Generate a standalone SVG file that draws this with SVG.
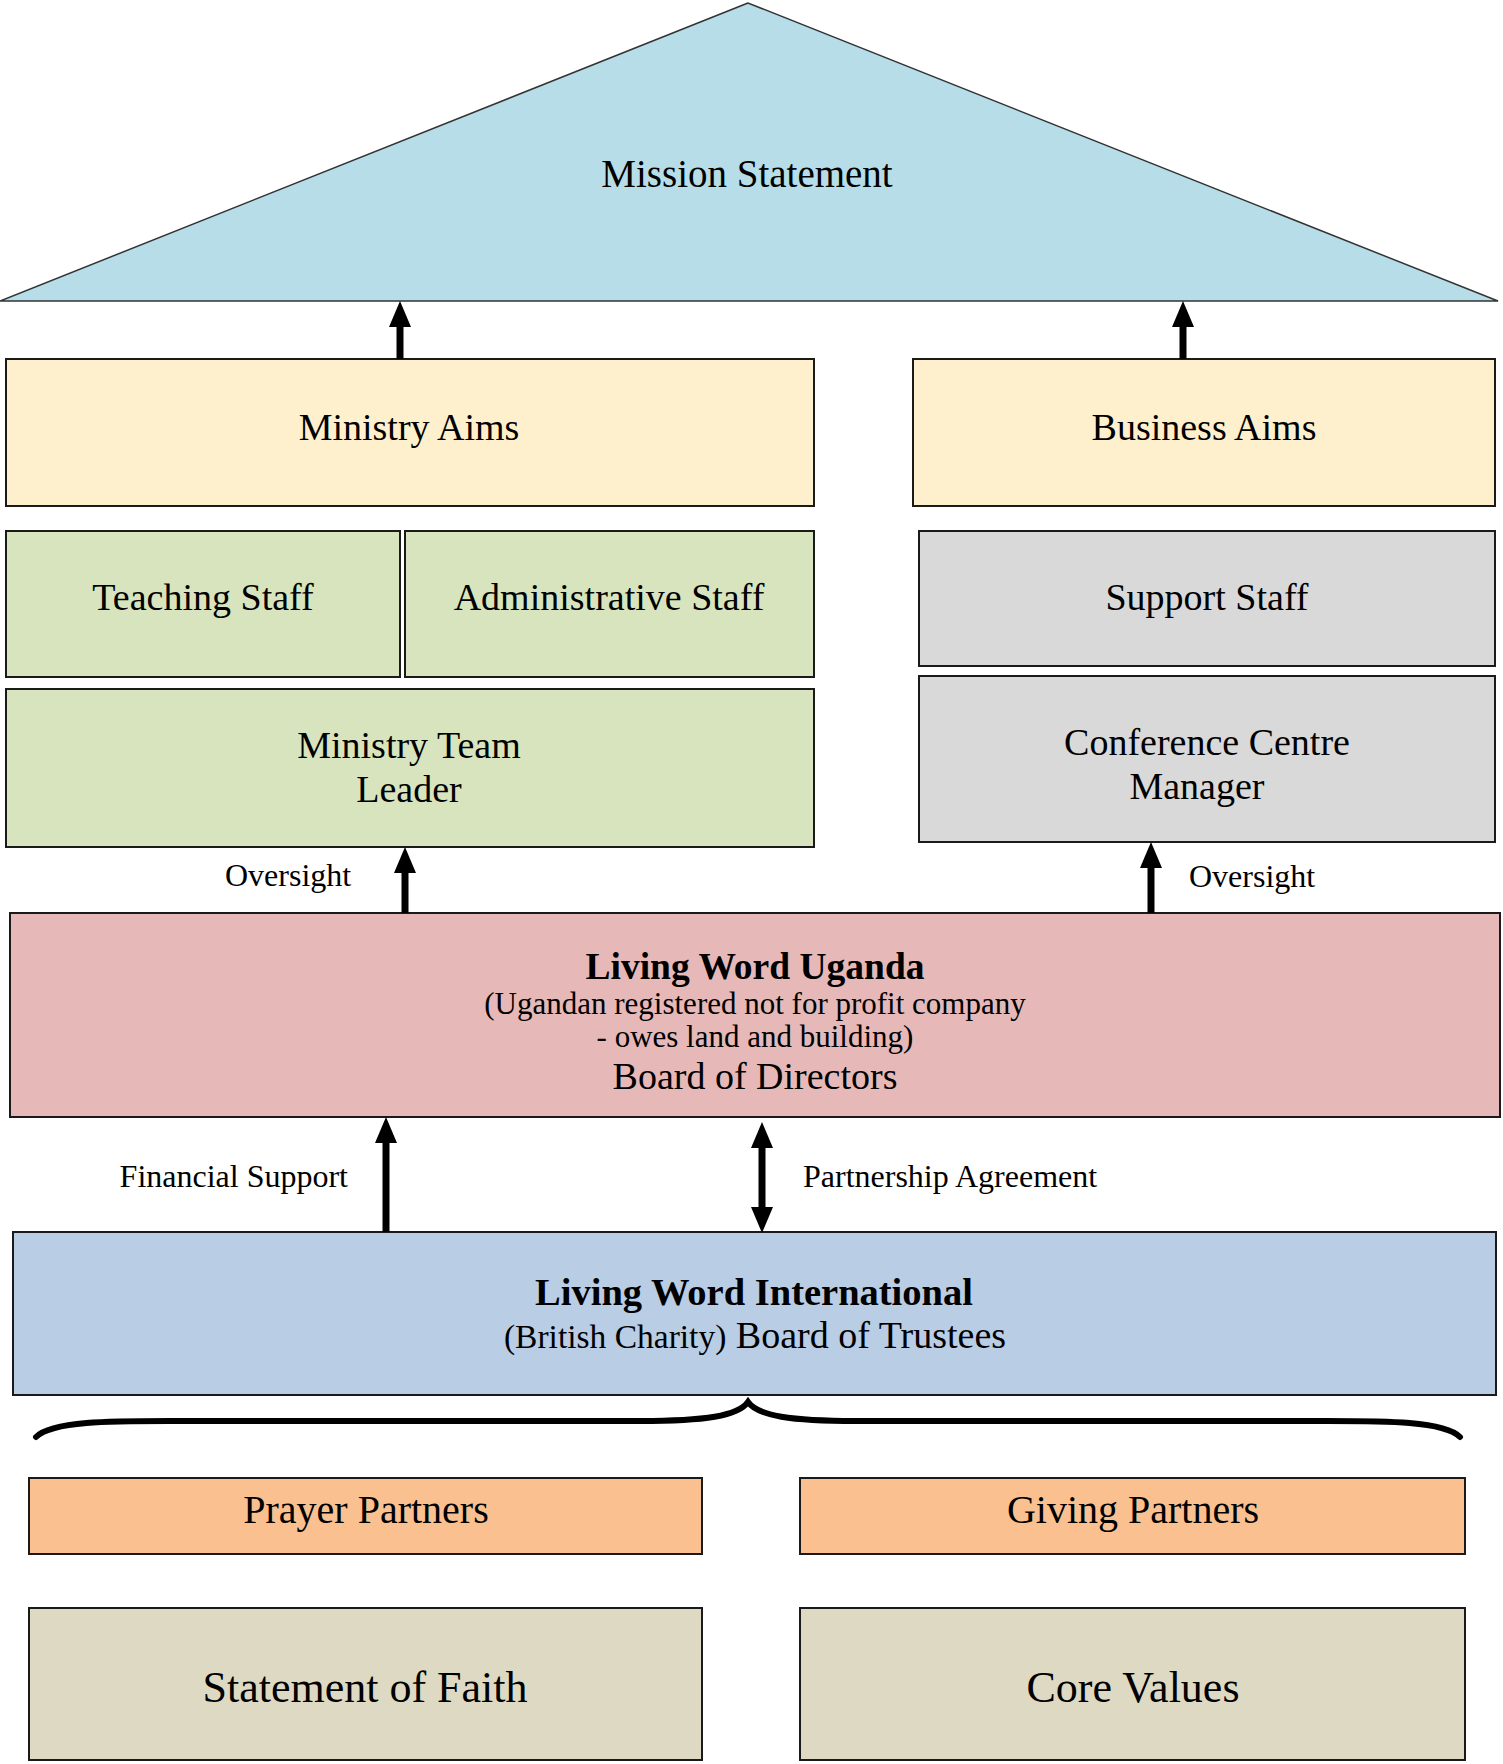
<svg xmlns="http://www.w3.org/2000/svg" width="1503" height="1764" viewBox="0 0 1503 1764">
<style>
.box{stroke:#1a1a1a;stroke-width:2}
.t{font-family:"Liberation Serif","Times New Roman",serif;fill:#000;text-anchor:middle}
.lbl{font-family:"Liberation Serif","Times New Roman",serif;fill:#000;font-size:32px}
.b{font-weight:bold}
.shaft{stroke:#000;stroke-width:7;fill:none}
.head{fill:#000}
</style>
<rect width="1503" height="1764" fill="#fff"/>
<g id="mission">
<polygon points="748,3 0,301 1498,301" fill="#B7DDE8" stroke="#333" stroke-width="1.5"/>
<text class="t" x="747" y="187" font-size="39">Mission Statement</text>
</g>
<g id="ministry-aims">
<rect class="box" x="6" y="359" width="808" height="147" fill="#FEF0CD"/>
<text class="t" x="409" y="440" font-size="38">Ministry Aims</text>
</g>
<g id="business-aims">
<rect class="box" x="913" y="359" width="582" height="147" fill="#FEF0CD"/>
<text class="t" x="1204" y="440" font-size="38">Business Aims</text>
</g>
<g id="teaching-staff">
<rect class="box" x="6" y="531" width="394" height="146" fill="#D7E4BD"/>
<text class="t" x="203" y="610" font-size="38">Teaching Staff</text>
</g>
<g id="administrative-staff">
<rect class="box" x="405" y="531" width="409" height="146" fill="#D7E4BD"/>
<text class="t" x="609" y="610" font-size="38">Administrative Staff</text>
</g>
<g id="support-staff">
<rect class="box" x="919" y="531" width="576" height="135" fill="#D9D9D9"/>
<text class="t" x="1207" y="610" font-size="38">Support Staff</text>
</g>
<g id="ministry-team-leader">
<rect class="box" x="6" y="689" width="808" height="158" fill="#D7E4BD"/>
<text class="t" x="409" y="758" font-size="38">Ministry Team</text>
<text class="t" x="409" y="802" font-size="38">Leader</text>
</g>
<g id="conference-centre-manager">
<rect class="box" x="919" y="676" width="576" height="166" fill="#D9D9D9"/>
<text class="t" x="1207" y="755" font-size="38">Conference Centre</text>
<text class="t" x="1197" y="799" font-size="38">Manager</text>
</g>
<g id="living-word-uganda">
<rect class="box" x="10" y="913" width="1490" height="204" fill="#E6B9B8"/>
<text class="t b" x="755" y="979" font-size="37.5">Living Word Uganda</text>
<text class="t" x="755" y="1014" font-size="31">(Ugandan registered not for profit company</text>
<text class="t" x="755" y="1047" font-size="31">- owes land and building)</text>
<text class="t" x="755" y="1089" font-size="38">Board of Directors</text>
</g>
<g id="living-word-international">
<rect class="box" x="13" y="1232" width="1483" height="163" fill="#B9CDE5"/>
<text class="t b" x="754" y="1305" font-size="38.5">Living Word International</text>
<text class="t" x="755" y="1348"><tspan font-size="33.5">(British Charity)</tspan><tspan font-size="38"> Board of Trustees</tspan></text>
</g>
<g id="brace">
<path d="M36,1437 C52,1421 110,1421 170,1421 L640,1421 C705,1421 738,1416 748,1402 C758,1416 791,1421 856,1421 L1326,1421 C1386,1421 1444,1421 1460,1437" fill="none" stroke="#000" stroke-width="6" stroke-linecap="round"/>
</g>
<g id="prayer-partners">
<rect class="box" x="29" y="1478" width="673" height="76" fill="#FAC090"/>
<text class="t" x="366" y="1523" font-size="40">Prayer Partners</text>
</g>
<g id="giving-partners">
<rect class="box" x="800" y="1478" width="665" height="76" fill="#FAC090"/>
<text class="t" x="1133" y="1523" font-size="40">Giving Partners</text>
</g>
<g id="statement-of-faith">
<rect class="box" x="29" y="1608" width="673" height="152" fill="#DDD9C3"/>
<text class="t" x="365" y="1702" font-size="44">Statement of Faith</text>
</g>
<g id="core-values">
<rect class="box" x="800" y="1608" width="665" height="152" fill="#DDD9C3"/>
<text class="t" x="1133" y="1702" font-size="44">Core Values</text>
</g>
<g id="connectors">
<line class="shaft" x1="400" y1="322" x2="400" y2="359"/>
<polygon class="head" points="400,301 389,327 411,327"/>
<line class="shaft" x1="1183" y1="322" x2="1183" y2="359"/>
<polygon class="head" points="1183,301 1172,327 1194,327"/>
<line class="shaft" x1="405" y1="868" x2="405" y2="913"/>
<polygon class="head" points="405,847 394,873 416,873"/>
<line class="shaft" x1="1151" y1="863" x2="1151" y2="913"/>
<polygon class="head" points="1151,842 1140,868 1162,868"/>
<line class="shaft" x1="386" y1="1138" x2="386" y2="1232"/>
<polygon class="head" points="386,1117 375,1143 397,1143"/>
<line class="shaft" x1="762" y1="1143" x2="762" y2="1212"/>
<polygon class="head" points="762,1122 751,1148 773,1148"/>
<polygon class="head" points="762,1233 751,1207 773,1207"/>
<text class="lbl" x="225" y="886">Oversight</text>
<text class="lbl" x="1189" y="887">Oversight</text>
<text class="lbl" x="348" y="1187" text-anchor="end">Financial Support</text>
<text class="lbl" x="803" y="1187">Partnership Agreement</text>
</g>
</svg>
